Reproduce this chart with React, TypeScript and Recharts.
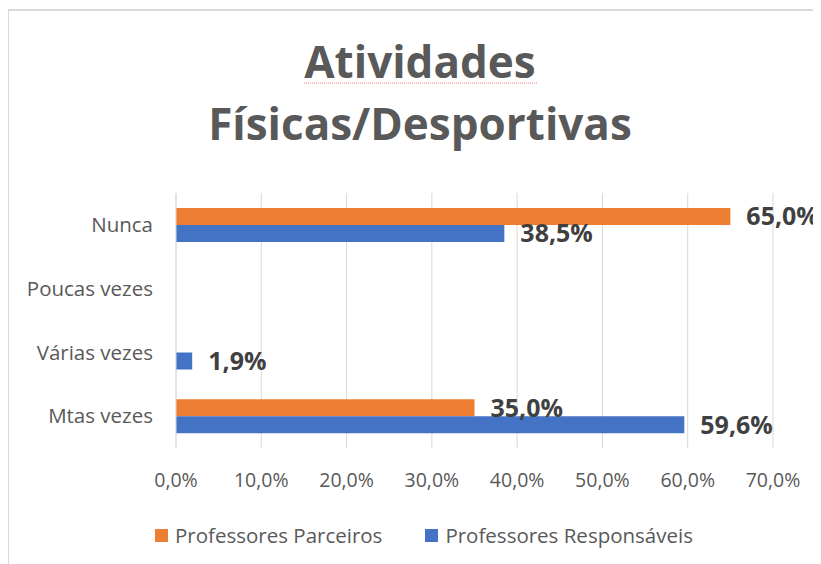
import { BarChart, Bar, XAxis, YAxis, CartesianGrid, Legend, LabelList } from "recharts";

const categories = ["Nunca", "Poucas vezes", "Várias vezes", "Mtas vezes"];
const parceiros: (number | null)[] = [65.0, null, null, 35.0];
const responsaveis: (number | null)[] = [38.5, null, 1.9, 59.6];
const xTicks = [0, 10, 20, 30, 40, 50, 60, 70];
const seriesNames = ["Professores Parceiros", "Professores Responsáveis"];
const seriesColors = ["#ed7d31", "#4472c4"];
const titleLines = ["Atividades", "Físicas/Desportivas"];

const data = categories.map((cat, i) => ({
  cat,
  parceiros: parceiros[i],
  responsaveis: responsaveis[i],
}));

const pct = (v: unknown) =>
  typeof v === "number" ? `${v.toFixed(1).replace(".", ",")}%` : "";

function LegendBox() {
  return (
    <div style={{ display: "flex", alignItems: "center", height: 24, paddingLeft: 147, fontSize: 20.5, color: "#595959" }}>
      {seriesNames.map((name, i) => (
        <div key={name} style={{ display: "flex", alignItems: "center", marginRight: 43 }}>
          <span style={{ width: 13, height: 13, background: seriesColors[i], marginRight: 7, display: "inline-block" }} />
          <span>{name}</span>
        </div>
      ))}
    </div>
  );
}

export default function App() {
  const labelStyle = { fill: "#404040", fontSize: 25, fontWeight: 700 };
  return (
    <div style={{ position: "relative", width: 813, height: 556, fontFamily: "'Open Sans', sans-serif" }}>
      <div
        style={{
          position: "absolute",
          left: -1,
          top: 1,
          width: 812,
          height: 553,
          borderLeft: "2px solid #d9d9d9",
          borderTop: "2px solid #d9d9d9",
        }}
      />
      <svg width={813} height={160} style={{ position: "absolute", left: 0, top: 0 }}>
        <line x1={296} x2={530} y1={75} y2={75} stroke="#f08080" strokeWidth={1} strokeDasharray="1 1" />
        {titleLines.map((t, i) => (
          <text key={t} x={412} y={70 + i * 62} textAnchor="middle" fontSize={44} fontWeight={700} fill="#595959">
            {t}
          </text>
        ))}
      </svg>
      <div style={{ position: "absolute", left: 0, top: 0 }}>
        <BarChart
          width={813}
          height={556}
          data={data}
          layout="vertical"
          margin={{ top: 185, right: 48, left: 0, bottom: 17 }}
          barSize={17}
          barGap={0}
        >
          <CartesianGrid horizontal={false} stroke="#d9d9d9" />
          <XAxis
            type="number"
            domain={[0, 70]}
            ticks={xTicks}
            interval={0}
            tickFormatter={pct}
            axisLine={false}
            tickLine={false}
            tickSize={0}
            tickMargin={25}
            height={75}
            tick={{ fill: "#595959", fontSize: 19.5 }}
          />
          <YAxis
            type="category"
            dataKey="cat"
            width={168}
            axisLine={{ stroke: "#d9d9d9" }}
            tickLine={false}
            tickSize={0}
            tickMargin={23}
            tick={{ fill: "#595959", fontSize: 20.5 }}
          />
          <Legend verticalAlign="bottom" wrapperStyle={{ left: 0, width: 813 }} content={() => <LegendBox />} />
          <Bar dataKey="parceiros" name={seriesNames[0]} fill={seriesColors[0]} isAnimationActive={false}>
            <LabelList dataKey="parceiros" position="right" offset={16} formatter={pct} style={labelStyle} />
          </Bar>
          <Bar dataKey="responsaveis" name={seriesNames[1]} fill={seriesColors[1]} isAnimationActive={false}>
            <LabelList dataKey="responsaveis" position="right" offset={16} formatter={pct} style={labelStyle} />
          </Bar>
        </BarChart>
      </div>
    </div>
  );
}
